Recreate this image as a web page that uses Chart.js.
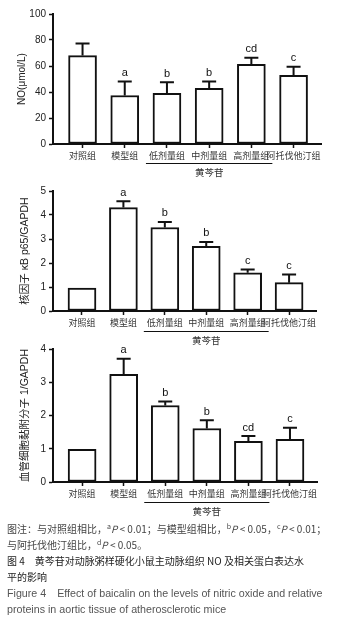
<!DOCTYPE html>
<html>
<head>
<meta charset="utf-8">
<script src="https://cdn.jsdelivr.net/npm/chart.js@4.4.1/dist/chart.umd.min.js"></script>
<style>
  body { margin: 0; width: 343px; height: 629px; background: #fff; position: relative; overflow: hidden; }
  canvas { position: absolute; left: 0; }
  #cap { position: absolute; left: 7px; top: 521px; font: 10px/16px "Noto Sans CJK SC", "Liberation Sans", sans-serif; color: #444; white-space: nowrap; }
  #cap sup { font-size: 7px; line-height: 0; }
  #cap .en { font-family: "Liberation Sans", Arial, sans-serif; font-size: 10.7px; color: #555; }
  #cap .ti { color: #222; }
</style>
</head>
<body>
<canvas id="c1" width="343" height="180" style="top:0"></canvas>
<canvas id="c2" width="343" height="170" style="top:178px"></canvas>
<canvas id="c3" width="343" height="180" style="top:338px"></canvas>
<div id="cap">
  <div>图注：与对照组相比，<sup>a</sup><i>P</i> &lt; 0.01；与模型组相比，<sup>b</sup><i>P</i> &lt; 0.05，<sup>c</sup><i>P</i> &lt; 0.01；</div>
  <div>与阿托伐他汀组比，<sup>d</sup><i>P</i> &lt; 0.05。</div>
  <div class="ti">图 4　黄芩苷对动脉粥样硬化小鼠主动脉组织 NO 及相关蛋白表达水</div>
  <div class="ti">平的影响</div>
  <div class="en">Figure 4　Effect of baicalin on the levels of nitric oxide and relative</div>
  <div class="en">proteins in aortic tissue of atherosclerotic mice</div>
</div>
<script>
// 分组
const groups = ['对照组', '模型组', '低剂量组', '中剂量组', '高剂量组', '阿托伐他汀组'];
const doseLabel = '黄芩苷';
const doseFrom = 2, doseTo = 4;

// NO (μmol/L)
const noVals = [68, 37.3, 39, 42.8, 61.2, 52.8];
const noErrTop = [77.4, 48, 47.5, 48, 66.4, 59.5];
const noSig = ['', 'a', 'b', 'b', 'cd', 'c'];
const noTicks = [0, 20, 40, 60, 80, 100];

// 核因子 κB p65/GAPDH
const p65Vals = [0.95, 4.31, 3.48, 2.69, 1.59, 1.18];
const p65ErrTop = [null, 4.57, 3.71, 2.88, 1.73, 1.52];
const p65Sig = ['', 'a', 'b', 'b', 'c', 'c'];
const p65Ticks = [0, 1, 2, 3, 4, 5];

// 血管细胞黏附分子 1/GAPDH
const vcamVals = [0.98, 3.24, 2.30, 1.61, 1.22, 1.28];
const vcamErrTop = [null, 3.71, 2.42, 1.86, 1.38, 1.63];
const vcamSig = ['', 'a', 'b', 'b', 'cd', 'c'];
const vcamTicks = [0, 1, 2, 3, 4];

const INK = '#111';

// error bars, letters, 黄芩苷 bracket
const extras = {
  id: 'extras',
  afterDatasetsDraw(chart, args, o) {
    const {ctx, scales: {x, y}} = chart;
    ctx.save();
    ctx.strokeStyle = INK;
    ctx.fillStyle = INK;
    ctx.lineWidth = 2;
    o.vals.forEach((v, i) => {
      const cx = x.getPixelForValue(i);
      let top = y.getPixelForValue(v);
      if (o.err[i] != null) {
        const ey = y.getPixelForValue(o.err[i]);
        ctx.beginPath();
        ctx.moveTo(cx, top);
        ctx.lineTo(cx, ey);
        ctx.moveTo(cx - 7, ey);
        ctx.lineTo(cx + 7, ey);
        ctx.stroke();
        top = ey;
      }
      if (o.sig[i]) {
        ctx.font = '11px "Liberation Sans", Arial, sans-serif';
        ctx.textAlign = 'center';
        ctx.textBaseline = 'bottom';
        ctx.fillText(o.sig[i], cx, top - 3);
      }
    });
    // underline + label below the dose groups
    const base = x.top;
    const x0 = x.getPixelForValue(doseFrom) - 21;
    const x1 = x.getPixelForValue(doseTo) + 21;
    ctx.lineWidth = 1;
    ctx.beginPath();
    ctx.moveTo(x0, base + o.lineGap + 0.5);
    ctx.lineTo(x1, base + o.lineGap + 0.5);
    ctx.stroke();
    ctx.font = '9.5px "Noto Sans CJK SC", sans-serif';
    ctx.textAlign = 'center';
    ctx.textBaseline = 'middle';
    ctx.fillStyle = '#333';
    ctx.fillText(doseLabel, (x0 + x1) / 2, base + o.lineGap + 9);
    ctx.restore();
  }
};

function makeChart(id, vals, err, sig, ticks, title, cfg) {
  new Chart(document.getElementById(id), {
    type: 'bar',
    data: {
      datasets: [{
        data: vals.map((v, i) => ({x: i, y: v})),
        backgroundColor: '#fff',
        borderColor: INK,
        borderWidth: 2,
        borderSkipped: false,
        barThickness: 28
      }]
    },
    plugins: [extras],
    options: {
      responsive: false,
      animation: false,
      layout: {padding: {left: 0, right: cfg.padRight, top: cfg.padTop, bottom: 0}},
      plugins: {
        legend: {display: false},
        tooltip: {enabled: false},
        extras: {vals, err, sig, lineGap: cfg.lineGap}
      },
      scales: {
        x: {
          type: 'linear',
          offset: false,
          min: -0.7,
          max: 5.65,
          afterBuildTicks: s => { s.ticks = groups.map((g, i) => ({value: i})); },
          afterFit: s => { s.height = cfg.xHeight; },
          ticks: {
            callback: v => groups[v],
            autoSkip: false,
            maxRotation: 0,
            padding: 2,
            color: '#333',
            font: {family: '"Noto Sans CJK SC", sans-serif', size: 9}
          },
          grid: {drawOnChartArea: false, drawTicks: true, tickLength: 4, tickWidth: 1.5, color: INK, offset: false},
          border: {color: INK, width: 2}
        },
        y: {
          min: ticks[0],
          max: ticks[ticks.length - 1],
          afterBuildTicks: s => { s.ticks = ticks.map(v => ({value: v})); },
          afterFit: s => { s.width = 53; },
          title: {
            display: true,
            text: title,
            color: '#222',
            padding: {top: cfg.titlePad, bottom: 0},
            font: {family: '"Liberation Sans", "Noto Sans CJK SC", sans-serif', size: cfg.titleSize}
          },
          ticks: {
            padding: 3,
            color: '#222',
            font: {family: '"Liberation Sans", Arial, sans-serif', size: 10}
          },
          grid: {drawOnChartArea: false, drawTicks: true, tickLength: 4, tickWidth: 1.5, color: INK},
          border: {color: INK, width: 2}
        }
      }
    }
  });
}

makeChart('c1', noVals, noErrTop, noSig, noTicks, 'NO(μmol/L)',
  {padTop: 14, padRight: 22, xHeight: 36, lineGap: 19, titlePad: 16, titleSize: 10});
makeChart('c2', p65Vals, p65ErrTop, p65Sig, p65Ticks, '核因子 κB p65/GAPDH',
  {padTop: 13, padRight: 27, xHeight: 37, lineGap: 20, titlePad: 19, titleSize: 10.5});
makeChart('c3', vcamVals, vcamErrTop, vcamSig, vcamTicks, '血管细胞黏附分子 1/GAPDH',
  {padTop: 11, padRight: 26, xHeight: 36, lineGap: 20, titlePad: 19, titleSize: 10.5});
</script>
</body>
</html>
